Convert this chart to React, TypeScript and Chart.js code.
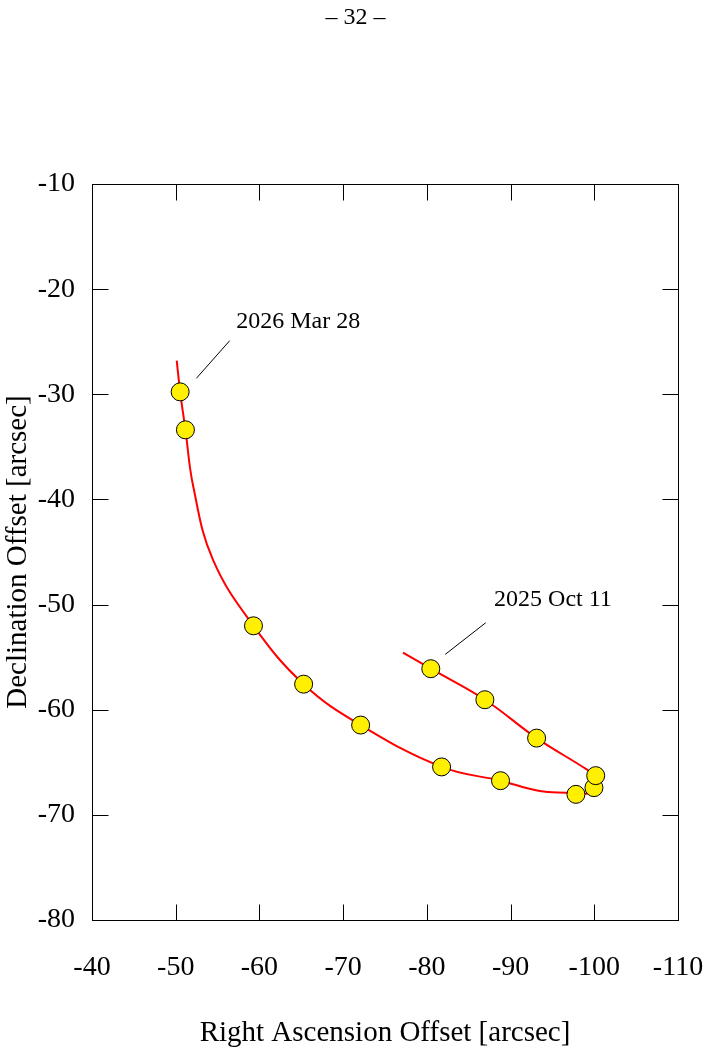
import React, { useEffect, useRef } from 'react';
import { Chart, registerables } from 'chart.js';

Chart.register(...registerables);

// Observed positions (RA offset, Dec offset) in arcsec
const obsRA = [-50.53, -51.16, -59.29, -65.28, -72.09, -81.76, -88.8, -97.81, -99.96, -100.17, -93.11, -86.93, -80.47];
const obsDec = [-29.77, -33.38, -52.02, -57.57, -61.46, -65.44, -66.75, -68.05, -67.41, -66.27, -62.7, -59.05, -56.1];

// Predicted path (red curve)
const pathRA = [-77.15, -80.47, -86.93, -93.11, -99.09, -100.2, -100.44, -100.32, -99.25, -96.7, -93.5, -88.8, -81.76, -72.09, -65.28, -59.29, -54.43, -52.09, -51.16, -50.53, -50.12];
const pathDec = [-54.58, -56.1, -59.05, -62.7, -65.68, -66.4, -67.1, -67.48, -67.96, -67.89, -67.74, -66.75, -65.44, -61.46, -57.57, -52.02, -45.71, -38.75, -33.38, -29.77, -26.8];

const xTicks = [-40, -50, -60, -70, -80, -90, -100, -110];
const yTicks = [-10, -20, -30, -40, -50, -60, -70, -80];
const xTickLabels = ['-40', '-50', '-60', '-70', '-80', '-90', '-100', '-110'];
const yTickLabels = ['-10', '-20', '-30', '-40', '-50', '-60', '-70', '-80'];

// Date annotations: text anchor and leader line (data units)
const noteTexts = ['2026 Mar 28', '2025 Oct 11'];
const noteTextRA = [-57.23, -88.03];
const noteTextDec = [-23.66, -50.09];
const noteLineRA1 = [-52.47, -82.19];
const noteLineDec1 = [-28.48, -54.74];
const noteLineRA2 = [-56.45, -87.03];
const noteLineDec2 = [-24.9, -51.73];

const pageLabel = '– 32 –';
const xTitle = 'Right Ascension Offset [arcsec]';
const yTitle = 'Declination Offset [arcsec]';

const SERIF = "'Liberation Serif', 'Times New Roman', serif";

export default function App() {
  const ref = useRef<HTMLCanvasElement>(null);

  useEffect(() => {
    if (!ref.current) return;

    const framePlugin = {
      id: 'frameTicks',
      afterDraw(chart: any) {
        const { ctx, chartArea } = chart;
        const xs = chart.scales.x;
        const ys = chart.scales.y;
        const { left, right, top, bottom } = chartArea;
        ctx.save();
        ctx.strokeStyle = '#000';
        ctx.lineWidth = 1;
        ctx.strokeRect(left + 0.5, top + 0.5, right - left, bottom - top);
        const tl = 16;
        ctx.beginPath();
        xTicks.forEach((v) => {
          const px = Math.round(xs.getPixelForValue(v)) + 0.5;
          ctx.moveTo(px, bottom + 0.5);
          ctx.lineTo(px, bottom + 0.5 - tl);
          ctx.moveTo(px, top + 0.5);
          ctx.lineTo(px, top + 0.5 + tl);
        });
        yTicks.forEach((v) => {
          const py = Math.round(ys.getPixelForValue(v)) + 0.5;
          ctx.moveTo(left + 0.5, py);
          ctx.lineTo(left + 0.5 + tl, py);
          ctx.moveTo(right + 0.5, py);
          ctx.lineTo(right + 0.5 - tl, py);
        });
        ctx.stroke();

        // annotations
        ctx.beginPath();
        noteTexts.forEach((_, i) => {
          ctx.moveTo(xs.getPixelForValue(noteLineRA1[i]), ys.getPixelForValue(noteLineDec1[i]));
          ctx.lineTo(xs.getPixelForValue(noteLineRA2[i]), ys.getPixelForValue(noteLineDec2[i]));
        });
        ctx.stroke();
        ctx.fillStyle = '#000';
        ctx.font = `24px ${SERIF}`;
        ctx.textAlign = 'left';
        ctx.textBaseline = 'alphabetic';
        noteTexts.forEach((t, i) => {
          ctx.fillText(t, xs.getPixelForValue(noteTextRA[i]), ys.getPixelForValue(noteTextDec[i]));
        });

        // page number
        ctx.font = `24px ${SERIF}`;
        ctx.textAlign = 'center';
        ctx.textBaseline = 'middle';
        ctx.fillText(pageLabel, 355.5, 18);
        ctx.restore();
      },
    };

    const chart = new Chart(ref.current, {
      type: 'scatter',
      data: {
        datasets: [
          {
            label: 'observed',
            data: obsRA.map((x, i) => ({ x, y: obsDec[i] })),
            showLine: false,
            pointRadius: 9,
            pointBackgroundColor: '#ffef00',
            pointBorderColor: '#000',
            pointBorderWidth: 1,
            order: 0,
          },
          {
            label: 'path',
            data: pathRA.map((x, i) => ({ x, y: pathDec[i] })),
            showLine: true,
            pointRadius: 0,
            borderColor: '#ff0000',
            borderWidth: 2,
            tension: 0.4,
            fill: false,
            order: 1,
          },
        ] as any,
      },
      options: {
        responsive: false,
        animation: false,
        devicePixelRatio: 1,
        layout: { padding: { left: 0, top: 184, right: 33, bottom: 0 } },
        plugins: { legend: { display: false }, tooltip: { enabled: false } },
        scales: {
          x: {
            type: 'linear',
            min: -110,
            max: -40,
            reverse: true,
            afterFit: (s: any) => { s.height = 133; s.paddingLeft = 0; s.paddingRight = 0; },
            afterBuildTicks: (s: any) => { s.ticks = xTicks.map((v) => ({ value: v })); },
            grid: { display: false, drawTicks: false },
            border: { display: false },
            ticks: {
              padding: 31,
              color: '#000',
              font: { family: SERIF, size: 28 },
              maxRotation: 0,
              autoSkip: false,
              callback: (v: any) => xTickLabels[xTicks.indexOf(Number(v))] ?? '',
            },
            title: {
              display: true,
              text: xTitle,
              color: '#000',
              font: { family: SERIF, size: 29 },
              padding: { top: 0, bottom: 2 },
            },
          },
          y: {
            type: 'linear',
            min: -80,
            max: -10,
            afterFit: (s: any) => { s.width = 92; s.paddingTop = 0; s.paddingBottom = 0; },
            afterBuildTicks: (s: any) => { s.ticks = yTicks.map((v) => ({ value: v })); },
            grid: { display: false, drawTicks: false },
            border: { display: false },
            ticks: {
              padding: 17,
              color: '#000',
              font: { family: SERIF, size: 28 },
              autoSkip: false,
              callback: (v: any) => yTickLabels[yTicks.indexOf(Number(v))] ?? '',
            },
            title: {
              display: true,
              text: yTitle,
              color: '#000',
              font: { family: SERIF, size: 29 },
              padding: { top: 1, bottom: 0 },
            },
          },
        },
      } as any,
      plugins: [framePlugin],
    });
    return () => chart.destroy();
  }, []);

  return (
    <div style={{ position: 'absolute', left: 0, top: 0, width: 711, height: 1053, background: '#fff' }}>
      <canvas ref={ref} width={711} height={1053} style={{ display: 'block', width: 711, height: 1053 }} />
    </div>
  );
}
